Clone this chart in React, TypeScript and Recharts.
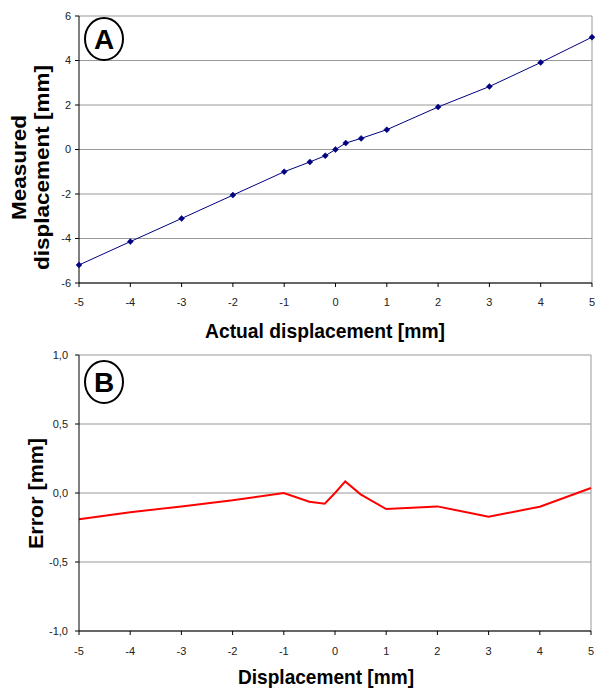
import React from 'react';
import { LineChart, Line, XAxis, YAxis, CartesianGrid, ReferenceLine } from 'recharts';

const actual = [-5, -4, -3, -2, -1, -0.5, -0.2, 0, 0.2, 0.5, 1, 2, 3, 4, 5];
const measured = [-5.19, -4.14, -3.1, -2.05, -1.0, -0.56, -0.28, 0.0, 0.29, 0.5, 0.89, 1.91, 2.83, 3.91, 5.05];
const errorVals = [-0.19, -0.14, -0.097, -0.053, 0.0, -0.063, -0.078, 0.0, 0.084, -0.01, -0.116, -0.097, -0.172, -0.099, 0.036];

const xTicks = [-5, -4, -3, -2, -1, 0, 1, 2, 3, 4, 5];
const yTicksA = [-6, -4, -2, 0, 2, 4, 6];
const yTicksB = [-1, -0.5, 0, 0.5, 1];

const dataA = actual.map((x, i) => ({ x, y: measured[i] }));
const dataB = actual.map((x, i) => ({ x, e: errorVals[i] }));

const FONT = 'Liberation Sans, Arial, Helvetica, sans-serif';
const tickStyle = { fontSize: 11, fill: '#222', fontFamily: FONT };

const Diamond = (props: any) => {
  const { cx, cy } = props;
  if (cx == null || cy == null) return null;
  const r = 3;
  return <polygon points={`${cx},${cy - r} ${cx + r},${cy} ${cx},${cy + r} ${cx - r},${cy}`} fill="#000080" stroke="#000080" strokeWidth={0.5} />;
};

const fmtComma = (v: number) => v.toFixed(1).replace('.', ',');

export default function App() {
  return (
    <div style={{ position: 'absolute', left: 0, top: 0, width: 595, height: 690, background: '#fff' }}>
      <div style={{ position: 'absolute', left: 0, top: 0 }}>
        <LineChart width={595} height={340} data={dataA} margin={{ top: 16, right: 3, left: 0, bottom: 0 }}>
          <CartesianGrid horizontal vertical={false} stroke="#999" />
          <ReferenceLine x={5} stroke="#999" />
          <XAxis type="number" dataKey="x" domain={[-5, 5]} ticks={xTicks} interval={0} height={57}
            tick={tickStyle} tickSize={4} tickMargin={11} axisLine={{ stroke: '#000' }} tickLine={{ stroke: '#000' }} />
          <YAxis type="number" domain={[-6, 6]} ticks={yTicksA} interval={0} width={79}
            tick={tickStyle} tickSize={4} tickMargin={4} axisLine={{ stroke: '#000' }} tickLine={{ stroke: '#000' }} />
          <Line type="linear" dataKey="y" stroke="#000080" strokeWidth={1} dot={<Diamond />} isAnimationActive={false} />
        </LineChart>
      </div>
      <div style={{ position: 'absolute', left: 0, top: 340 }}>
        <LineChart width={595} height={350} data={dataB} margin={{ top: 15, right: 4, left: 0, bottom: 0 }}>
          <CartesianGrid horizontal vertical={false} stroke="#999" />
          <ReferenceLine x={5} stroke="#999" />
          <XAxis type="number" dataKey="x" domain={[-5, 5]} ticks={xTicks} interval={0} height={59}
            tick={tickStyle} tickSize={4} tickMargin={12} axisLine={{ stroke: '#000' }} tickLine={{ stroke: '#000' }} />
          <YAxis type="number" domain={[-1, 1]} ticks={yTicksB} interval={0} width={79} tickFormatter={fmtComma}
            tick={tickStyle} tickSize={4} tickMargin={7} axisLine={{ stroke: '#000' }} tickLine={{ stroke: '#000' }} />
          <Line type="linear" dataKey="e" stroke="#ff0000" strokeWidth={2} dot={false} isAnimationActive={false} />
        </LineChart>
      </div>
      <svg width={595} height={690} style={{ position: 'absolute', left: 0, top: 0, pointerEvents: 'none' }}>
        <g fontFamily={FONT} fontWeight="bold" fill="#000">
          <ellipse cx={104} cy={39} rx={19} ry={21} fill="none" stroke="#000" strokeWidth={2} />
          <text x={104} y={49} fontSize={28} textAnchor="middle">A</text>
          <ellipse cx={104} cy={382} rx={19} ry={21} fill="none" stroke="#000" strokeWidth={2} />
          <text x={104} y={392} fontSize={28} textAnchor="middle">B</text>
          <text x={325} y={338} fontSize={21} textAnchor="middle" textLength={240} lengthAdjust="spacingAndGlyphs">Actual displacement [mm]</text>
          <text transform="translate(26,167.5) rotate(-90)" fontSize={21} textAnchor="middle" textLength={105} lengthAdjust="spacingAndGlyphs">Measured</text>
          <text transform="translate(49,167.5) rotate(-90)" fontSize={21} textAnchor="middle" textLength={205} lengthAdjust="spacingAndGlyphs">displacement [mm]</text>
          <text x={326} y={684} fontSize={21} textAnchor="middle" textLength={176} lengthAdjust="spacingAndGlyphs">Displacement [mm]</text>
          <text transform="translate(43,493.5) rotate(-90)" fontSize={21} textAnchor="middle" textLength={111} lengthAdjust="spacingAndGlyphs">Error [mm]</text>
        </g>
      </svg>
    </div>
  );
}
